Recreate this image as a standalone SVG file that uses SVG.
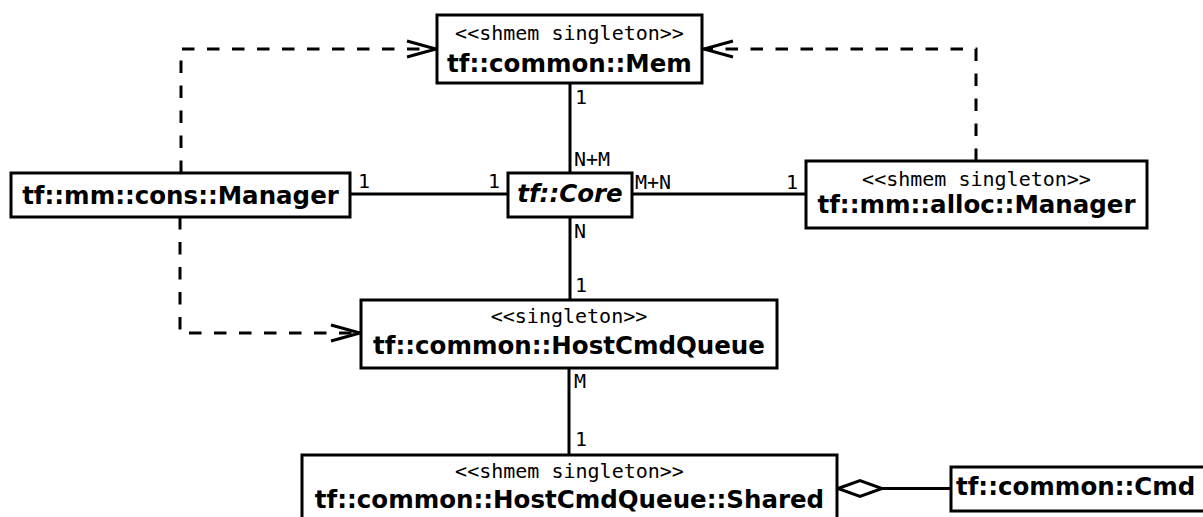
<svg xmlns="http://www.w3.org/2000/svg" width="1203" height="517" viewBox="0 0 1203 517">
  <style>
    .box { fill: #ffffff; stroke: #000000; stroke-width: 3; }
    .name { font-family: "DejaVu Sans", sans-serif; font-weight: bold; font-size: 24.5px; fill: #000; text-anchor: middle; }
    .abstract { font-style: italic; }
    .stereo { font-family: "DejaVu Sans Mono", monospace; font-size: 20px; fill: #000; text-anchor: middle; }
    .mult { font-family: "DejaVu Sans Mono", monospace; font-size: 20px; fill: #000; }
    .assoc { fill: none; stroke: #000; stroke-width: 3; }
    .dep { fill: none; stroke: #000; stroke-width: 3; stroke-dasharray: 12.5 12.5; }
    .head { fill: none; stroke: #000; stroke-width: 3; stroke-linejoin: miter; }
  </style>
  <rect width="1203" height="517" fill="#ffffff"/>

  <g id="connectors">
    <!-- associations -->
    <line class="assoc" x1="570" y1="83" x2="570" y2="173"/>
    <line class="assoc" x1="350" y1="194" x2="508" y2="194"/>
    <line class="assoc" x1="632" y1="194" x2="806" y2="194"/>
    <line class="assoc" x1="570" y1="217" x2="570" y2="300"/>
    <line class="assoc" x1="569" y1="368" x2="569" y2="455"/>
    <!-- aggregation Shared <>— Cmd -->
    <line class="assoc" x1="882" y1="488.5" x2="951" y2="488.5"/>
    <polygon points="838,488.5 860,480.5 882,488.5 860,496.5" fill="#ffffff" stroke="#000" stroke-width="3"/>
    <!-- dependencies -->
    <path class="dep" d="M181,173 V49 H436"/>
    <polyline class="head" points="407,41 436,49 407,57"/>
    <path class="dep" d="M976,161 V49 H703"/>
    <polyline class="head" points="733,41 704,49 733,57"/>
    <path class="dep" d="M180,217 V333 H360"/>
    <polyline class="head" points="331,325 360,333 331,341"/>
    <!-- multiplicities -->
    <text class="mult" x="575" y="104">1</text>
    <text class="mult" x="574" y="166">N+M</text>
    <text class="mult" x="358" y="188">1</text>
    <text class="mult" x="488" y="188">1</text>
    <text class="mult" x="635" y="189">M+N</text>
    <text class="mult" x="786" y="189">1</text>
    <text class="mult" x="574" y="237.5">N</text>
    <text class="mult" x="575" y="292">1</text>
    <text class="mult" x="574" y="388">M</text>
    <text class="mult" x="575" y="446">1</text>
  </g>

  <g id="mem">
    <rect class="box" x="437" y="15" width="265" height="68"/>
    <text class="stereo" x="569.5" y="40">&lt;&lt;shmem singleton&gt;&gt;</text>
    <text class="name" x="569.5" y="72">tf::common::Mem</text>
  </g>

  <g id="cons-manager">
    <rect class="box" x="11" y="173" width="339" height="44"/>
    <text class="name" x="180.5" y="203.5">tf::mm::cons::Manager</text>
  </g>

  <g id="core">
    <rect class="box" x="508" y="173" width="124" height="44"/>
    <text class="name abstract" x="570" y="202">tf::Core</text>
  </g>

  <g id="alloc-manager">
    <rect class="box" x="806" y="161" width="341" height="67"/>
    <text class="stereo" x="976.5" y="185.5">&lt;&lt;shmem singleton&gt;&gt;</text>
    <text class="name" x="976.5" y="213">tf::mm::alloc::Manager</text>
  </g>

  <g id="host-cmd-queue">
    <rect class="box" x="361" y="300" width="416" height="68"/>
    <text class="stereo" x="569" y="323">&lt;&lt;singleton&gt;&gt;</text>
    <text class="name" x="569" y="353.5">tf::common::HostCmdQueue</text>
  </g>

  <g id="host-cmd-queue-shared">
    <rect class="box" x="302" y="455" width="535" height="70"/>
    <text class="stereo" x="569.5" y="478">&lt;&lt;shmem singleton&gt;&gt;</text>
    <text class="name" x="569.5" y="508">tf::common::HostCmdQueue::Shared</text>
  </g>

  <g id="cmd">
    <rect class="box" x="951" y="467" width="262" height="44"/>
    <text class="name" x="956" y="495" style="text-anchor:start">tf::common::Cmd</text>
  </g>
</svg>
